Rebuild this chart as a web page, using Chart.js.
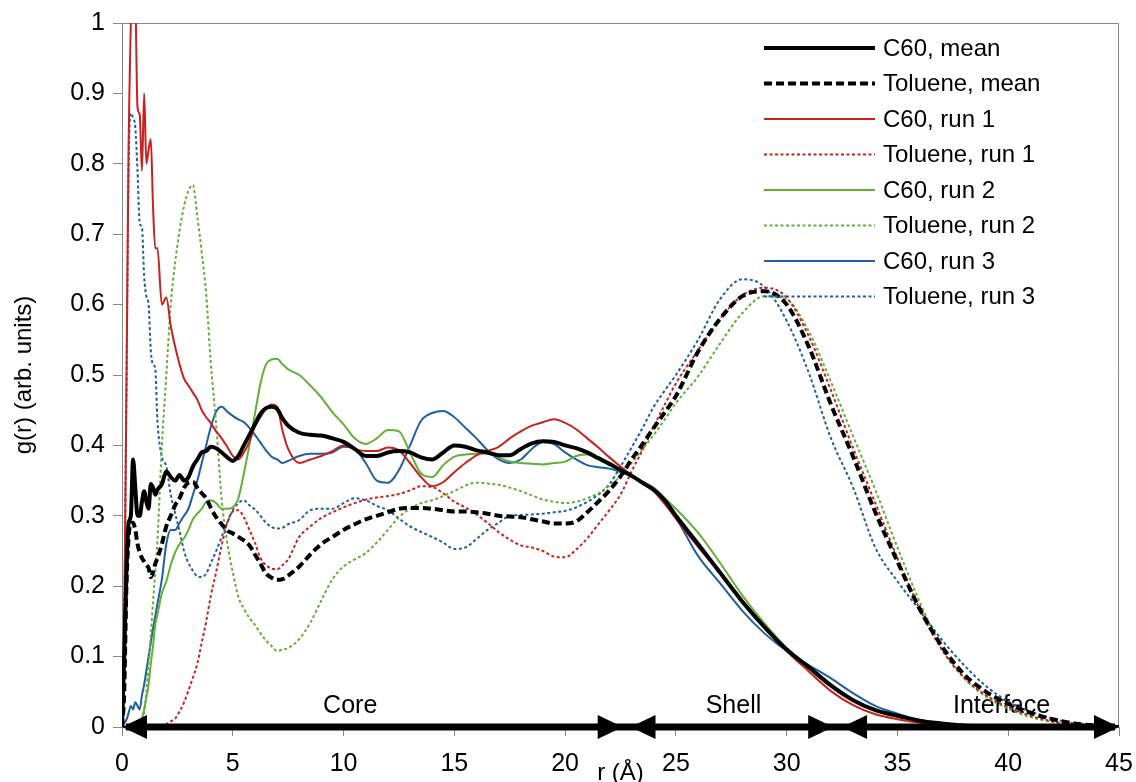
<!DOCTYPE html>
<html>
<head>
<meta charset="utf-8">
<title>g(r) of C60 and toluene</title>
<script src="https://cdn.jsdelivr.net/npm/chart.js@4.4.1/dist/chart.umd.min.js"></script>
<style>
  html, body { margin: 0; padding: 0; background: #fff; }
  #chart { display: block; }
</style>
</head>
<body>
<canvas id="chart" width="1136" height="782"></canvas>
<script>
// r grid in Angstrom (finer where the curves are noisy)
const rValues = [
  0, 0.1, 0.2, 0.3, 0.4, 0.5, 0.6, 0.7, 0.8, 0.9, 1.0, 1.1, 1.2, 1.3, 1.4, 1.5, 1.6,
  1.8, 2.0, 2.2, 2.4, 2.6, 2.8, 3.0, 3.2, 3.4, 3.6, 3.8, 4.0,
  4.25, 4.5, 4.75, 5.0, 5.25, 5.5, 5.75, 6.0, 6.25, 6.5, 6.75, 7.0, 7.25, 7.5,
  8, 8.5, 9, 9.5, 10, 10.5, 11, 11.5, 12, 12.5, 13, 13.5, 14, 14.5, 15, 15.5, 16,
  16.5, 17, 17.5, 18, 18.5, 19, 19.5, 20, 20.5, 21, 21.5, 22, 22.5, 23, 23.5, 24, 24.5, 25,
  26, 27, 28, 29, 30, 31, 32, 33, 34, 35, 36, 37, 38, 39, 40, 41, 42, 43, 44, 45
];

const c60Mean = [
  0, 0.10, 0.22, 0.29, 0.30, 0.38, 0.34, 0.30, 0.30, 0.32, 0.335, 0.32, 0.31, 0.345, 0.34, 0.33, 0.337,
  0.345, 0.363, 0.355, 0.35, 0.358, 0.35, 0.355, 0.37, 0.38, 0.39, 0.392, 0.398,
  0.396, 0.39, 0.383, 0.378, 0.385, 0.40, 0.415, 0.43, 0.445, 0.453, 0.455, 0.452, 0.438, 0.428,
  0.418, 0.415, 0.414, 0.41, 0.405, 0.395, 0.385, 0.385, 0.39, 0.392, 0.39, 0.383, 0.38, 0.39, 0.40, 0.398, 0.393,
  0.39, 0.386, 0.386, 0.395, 0.403, 0.406, 0.405, 0.40, 0.396, 0.39, 0.382, 0.374, 0.365, 0.357, 0.347, 0.337, 0.322, 0.30,
  0.26, 0.219, 0.178, 0.142, 0.11, 0.085, 0.059, 0.038, 0.024, 0.016, 0.009, 0.005, 0.002, 0.001, 0, 0, 0, 0, 0, 0
];

const tolueneMean = [
  0, 0.05, 0.20, 0.27, 0.29, 0.29, 0.28, 0.26, 0.248, 0.24, 0.235, 0.23, 0.226, 0.213, 0.22, 0.232, 0.24,
  0.26, 0.285, 0.30, 0.315, 0.325, 0.34, 0.347, 0.348, 0.34, 0.332, 0.325, 0.312,
  0.298, 0.288, 0.279, 0.275, 0.27, 0.265, 0.258, 0.245, 0.232, 0.218, 0.212, 0.209, 0.21, 0.215,
  0.228, 0.245, 0.26, 0.27, 0.28, 0.288, 0.295, 0.30, 0.305, 0.31, 0.311, 0.311, 0.31, 0.308, 0.306, 0.306, 0.305,
  0.303, 0.30, 0.299, 0.298, 0.295, 0.292, 0.289, 0.289, 0.292, 0.305, 0.32, 0.336, 0.356, 0.38, 0.402, 0.425, 0.447, 0.47,
  0.533, 0.58, 0.612, 0.619, 0.60, 0.54, 0.458, 0.384, 0.305, 0.235, 0.168, 0.115, 0.075, 0.05, 0.033, 0.02, 0.011, 0.005, 0.002, 0
];

const c60Run1 = [
  0, 0.15, 0.48, 0.83, 1.0, 1.12, 1.05, 0.88, 0.87, 0.79, 0.90, 0.80, 0.82, 0.835, 0.74, 0.68, 0.68,
  0.60, 0.61, 0.57, 0.54, 0.515, 0.495, 0.485, 0.475, 0.465, 0.45, 0.44, 0.432,
  0.42, 0.41, 0.398, 0.385, 0.38, 0.39, 0.405, 0.427, 0.44, 0.452, 0.458, 0.455, 0.42, 0.395,
  0.375, 0.38, 0.385, 0.392, 0.40, 0.395, 0.392, 0.392, 0.397, 0.393, 0.375, 0.355, 0.342, 0.348, 0.362, 0.375, 0.386,
  0.392, 0.398, 0.41, 0.42, 0.428, 0.433, 0.437, 0.432, 0.423, 0.41, 0.397, 0.383, 0.37, 0.358, 0.346, 0.335, 0.317, 0.296,
  0.256, 0.219, 0.18, 0.143, 0.108, 0.079, 0.051, 0.031, 0.018, 0.011, 0.006, 0.003, 0.001, 0, 0, 0, 0, 0, 0, 0
];

const tolueneRun1 = [
  0, 0, 0, 0, 0, 0, 0, 0, 0, 0, 0, 0, 0, 0, 0, 0, 0,
  0.002, 0.004, 0.008, 0.012, 0.022, 0.035, 0.052, 0.07, 0.09, 0.12, 0.15, 0.185,
  0.22, 0.258, 0.29, 0.306, 0.308, 0.298, 0.28, 0.262, 0.24, 0.23, 0.225, 0.224, 0.23, 0.238,
  0.27, 0.285, 0.297, 0.305, 0.312, 0.318, 0.323, 0.326, 0.328, 0.331, 0.336, 0.342, 0.341, 0.332, 0.32, 0.312, 0.302,
  0.29, 0.277, 0.266, 0.258, 0.255, 0.25, 0.242, 0.241, 0.252, 0.268, 0.288, 0.308, 0.33, 0.363, 0.394, 0.427, 0.458, 0.488,
  0.535, 0.58, 0.613, 0.624, 0.61, 0.555, 0.478, 0.396, 0.318, 0.24, 0.168, 0.11, 0.07, 0.045, 0.028, 0.016, 0.008, 0.003, 0.001, 0
];

const c60Run2 = [
  0, 0, 0, 0, 0, 0, 0, 0.003, 0.006, 0.012, 0.025, 0.042, 0.06, 0.09, 0.115, 0.145, 0.16,
  0.19, 0.207, 0.23, 0.248, 0.26, 0.268, 0.28, 0.295, 0.303, 0.31, 0.32, 0.322,
  0.318, 0.31, 0.31, 0.312, 0.325, 0.36, 0.40, 0.445, 0.488, 0.515, 0.522, 0.523, 0.515, 0.508,
  0.50, 0.485, 0.468, 0.447, 0.43, 0.41, 0.402, 0.41, 0.422, 0.42, 0.39, 0.36, 0.355, 0.372, 0.384, 0.387, 0.388,
  0.388, 0.383, 0.377, 0.375, 0.374, 0.373, 0.375, 0.377, 0.385, 0.387, 0.38, 0.372, 0.363, 0.356, 0.348, 0.34, 0.325, 0.31,
  0.276, 0.233, 0.187, 0.147, 0.112, 0.083, 0.057, 0.037, 0.023, 0.014, 0.008, 0.004, 0.001, 0, 0, 0, 0, 0, 0, 0
];

const tolueneRun2 = [
  0, 0, 0, 0, 0, 0, 0, 0, 0, 0, 0.02, 0.05, 0.09, 0.13, 0.178, 0.22, 0.265,
  0.40, 0.50, 0.60, 0.66, 0.705, 0.74, 0.762, 0.77, 0.725, 0.674, 0.615, 0.52,
  0.43, 0.323, 0.262, 0.22, 0.185, 0.168, 0.155, 0.145, 0.133, 0.123, 0.115, 0.108, 0.11, 0.112,
  0.125, 0.148, 0.18, 0.21, 0.228, 0.238, 0.247, 0.262, 0.28, 0.298, 0.31, 0.318, 0.322, 0.328, 0.335, 0.343, 0.347,
  0.346, 0.344, 0.34, 0.335, 0.329, 0.323, 0.32, 0.318, 0.32, 0.325, 0.332, 0.343, 0.356, 0.375, 0.395, 0.415, 0.437, 0.46,
  0.498, 0.545, 0.588, 0.612, 0.607, 0.562, 0.49, 0.413, 0.337, 0.255, 0.178, 0.112, 0.07, 0.043, 0.026, 0.014, 0.007, 0.002, 0, 0
];

const c60Run3 = [
  0, 0.005, 0.01, 0.02, 0.03, 0.025, 0.035, 0.03, 0.025, 0.045, 0.06, 0.08, 0.10, 0.12, 0.14, 0.157, 0.175,
  0.21, 0.26, 0.28, 0.28, 0.29, 0.30, 0.31, 0.33, 0.35, 0.375, 0.40, 0.425,
  0.448, 0.455, 0.448, 0.442, 0.437, 0.433, 0.425, 0.415, 0.404, 0.393, 0.384, 0.38, 0.375, 0.378,
  0.385, 0.388, 0.388, 0.39, 0.398, 0.395, 0.375, 0.35, 0.347, 0.365, 0.40, 0.435, 0.446, 0.449, 0.44, 0.425, 0.41,
  0.393, 0.38, 0.375, 0.38, 0.395, 0.405, 0.402, 0.39, 0.38, 0.372, 0.369, 0.367, 0.362, 0.356, 0.346, 0.336, 0.317, 0.297,
  0.243, 0.204, 0.165, 0.133, 0.108, 0.088, 0.069, 0.048, 0.03, 0.019, 0.01, 0.005, 0.001, 0, 0, 0, 0, 0, 0, 0
];

const tolueneRun3 = [
  0, 0.15, 0.48, 0.80, 0.872, 0.865, 0.852, 0.79, 0.715, 0.71, 0.64, 0.612, 0.60, 0.535, 0.515, 0.51, 0.435,
  0.384, 0.37, 0.33, 0.303, 0.278, 0.25, 0.233, 0.222, 0.214, 0.213, 0.218, 0.232,
  0.25, 0.27, 0.29, 0.308, 0.318, 0.322, 0.315, 0.309, 0.30, 0.29, 0.284, 0.282, 0.283, 0.288,
  0.294, 0.308, 0.31, 0.31, 0.318, 0.325, 0.322, 0.314, 0.308, 0.296, 0.285, 0.277, 0.27, 0.262, 0.253, 0.255, 0.267,
  0.28, 0.29, 0.30, 0.301, 0.302, 0.303, 0.305, 0.307, 0.312, 0.32, 0.33, 0.345, 0.37, 0.397, 0.425, 0.455, 0.478, 0.5,
  0.55, 0.608, 0.636, 0.625, 0.577, 0.503, 0.41, 0.34, 0.255, 0.207, 0.166, 0.124, 0.088, 0.058, 0.036, 0.022, 0.012, 0.005, 0.002, 0
];

const xTicks = [0, 5, 10, 15, 20, 25, 30, 35, 40, 45];
const yTicks = [0, 0.1, 0.2, 0.3, 0.4, 0.5, 0.6, 0.7, 0.8, 0.9, 1];

// regions marked with arrows along r
const regionNames = ['Core', 'Shell', 'Interface'];
const regionStart = [0, 22.95, 32.5];
const regionEnd = [22.6, 32.1, 45];
const regionLabelAt = [10.3, 27.6, 39.7];

const FONT = '"Liberation Sans", Arial, sans-serif';
const RED = '#c9211e';
const GREEN = '#62b034';
const BLUE = '#1f5fa2';

function makeSet(label, values, color, width, dash) {
    return {
        label: label,
        data: rValues.map((r, i) => ({ x: r, y: values[i] })),
        borderColor: color,
        backgroundColor: color,
        borderWidth: width,
        borderDash: dash,
        pointRadius: 0,
        fill: false,
        cubicInterpolationMode: 'monotone'
    };
}

// plot frame (top + right edge)
const framePlugin = {
    id: 'frame',
    beforeDatasetsDraw(chart) {
        const a = chart.chartArea;
        const ctx = chart.ctx;
        ctx.save();
        ctx.strokeStyle = '#888';
        ctx.lineWidth = 1;
        ctx.beginPath();
        ctx.moveTo(a.left, a.top + 0.5);
        ctx.lineTo(a.right - 0.5, a.top + 0.5);
        ctx.lineTo(a.right - 0.5, a.bottom);
        ctx.stroke();
        ctx.restore();
    }
};

// Core / Shell / Interface arrows
const regionPlugin = {
    id: 'regions',
    beforeDatasetsDraw(chart) {
        const ctx = chart.ctx;
        const xs = chart.scales.x;
        const y0 = chart.scales.y.getPixelForValue(0);
        ctx.save();
        ctx.fillStyle = '#000';
        ctx.font = '25px ' + FONT;
        ctx.textAlign = 'center';
        ctx.textBaseline = 'alphabetic';
        regionNames.forEach((name, i) => {
            ctx.fillText(name, xs.getPixelForValue(regionLabelAt[i]), y0 - 14);
        });
        ctx.restore();
    },
    afterDatasetsDraw(chart) {
        const ctx = chart.ctx;
        const xs = chart.scales.x;
        const y0 = chart.scales.y.getPixelForValue(0);
        const headLen = 25, headHalf = 12;
        ctx.save();
        ctx.fillStyle = '#000';
        ctx.strokeStyle = '#000';
        ctx.lineWidth = 7;
        ctx.beginPath();
        ctx.moveTo(xs.getPixelForValue(regionStart[0]) + 4, y0);
        ctx.lineTo(xs.getPixelForValue(regionEnd[regionEnd.length - 1]) - 4, y0);
        ctx.stroke();
        regionNames.forEach((name, i) => {
            const a = xs.getPixelForValue(regionStart[i]);
            const b = xs.getPixelForValue(regionEnd[i]);
            ctx.beginPath();
            ctx.moveTo(a, y0);
            ctx.lineTo(a + headLen, y0 - headHalf);
            ctx.lineTo(a + headLen, y0 + headHalf);
            ctx.closePath();
            ctx.fill();
            ctx.beginPath();
            ctx.moveTo(b, y0);
            ctx.lineTo(b - headLen, y0 - headHalf);
            ctx.lineTo(b - headLen, y0 + headHalf);
            ctx.closePath();
            ctx.fill();
        });
        ctx.restore();
    }
};

// legend drawn inside the plot, top right
const insideLegend = {
    id: 'insideLegend',
    afterDraw(chart) {
        const ctx = chart.ctx;
        const a = chart.chartArea;
        const x0 = a.right - 355, x1 = a.right - 244, tx = a.right - 236;
        ctx.save();
        ctx.font = '24px ' + FONT;
        ctx.textBaseline = 'middle';
        ctx.textAlign = 'left';
        chart.data.datasets.forEach((ds, i) => {
            const y = a.top + 25 + i * 35.5;
            ctx.strokeStyle = ds.borderColor;
            ctx.lineWidth = ds.borderWidth;
            ctx.setLineDash(ds.borderDash || []);
            ctx.beginPath();
            ctx.moveTo(x0, y);
            ctx.lineTo(x1, y);
            ctx.stroke();
            ctx.setLineDash([]);
            ctx.fillStyle = '#000';
            ctx.fillText(ds.label, tx, y + 1);
        });
        ctx.restore();
    }
};

Chart.defaults.font.family = FONT;

new Chart(document.getElementById('chart'), {
    type: 'line',
    data: {
        datasets: [
            makeSet('C60, mean', c60Mean, '#000', 4, []),
            makeSet('Toluene, mean', tolueneMean, '#000', 4, [8, 4]),
            makeSet('C60, run 1', c60Run1, RED, 2, []),
            makeSet('Toluene, run 1', tolueneRun1, RED, 2, [3, 2.5]),
            makeSet('C60, run 2', c60Run2, GREEN, 2, []),
            makeSet('Toluene, run 2', tolueneRun2, GREEN, 2, [3, 2.5]),
            makeSet('C60, run 3', c60Run3, BLUE, 2, []),
            makeSet('Toluene, run 3', tolueneRun3, BLUE, 2, [3, 2.5])
        ]
    },
    options: {
        responsive: false,
        animation: false,
        layout: { padding: { top: 23, right: 17, left: 0, bottom: 0 } },
        plugins: {
            legend: { display: false },
            tooltip: { enabled: false }
        },
        scales: {
            x: {
                type: 'linear',
                min: 0,
                max: 45,
                afterFit: s => {
                    s.height = 55;
                    s.paddingLeft = 0;
                    s.paddingRight = 14;
                },
                afterBuildTicks: s => { s.ticks = xTicks.map(v => ({ value: v })); },
                ticks: { color: '#000', font: { size: 25 }, padding: 13, maxRotation: 0, autoSkip: false },
                grid: { drawOnChartArea: false, tickLength: 9, color: '#888' },
                border: { color: '#888' },
                title: {
                    display: true,
                    text: 'r (Å)',
                    color: '#000',
                    font: { size: 24 },
                    padding: { top: 0, bottom: -6 }
                }
            },
            y: {
                type: 'linear',
                min: 0,
                max: 1,
                afterFit: s => {
                    s.width = 122;
                    s.paddingTop = 0;
                    s.paddingBottom = 0;
                },
                afterBuildTicks: s => { s.ticks = yTicks.map(v => ({ value: v })); },
                ticks: { color: '#000', font: { size: 25 }, padding: 8, callback: v => String(v) },
                grid: { drawOnChartArea: false, tickLength: 9, color: '#888' },
                border: { color: '#888' },
                title: {
                    display: true,
                    text: 'g(r) (arb. units)',
                    color: '#000',
                    font: { size: 24 },
                    padding: { top: 10, bottom: 0 }
                }
            }
        }
    },
    plugins: [framePlugin, regionPlugin, insideLegend]
});
</script>
</body>
</html>
